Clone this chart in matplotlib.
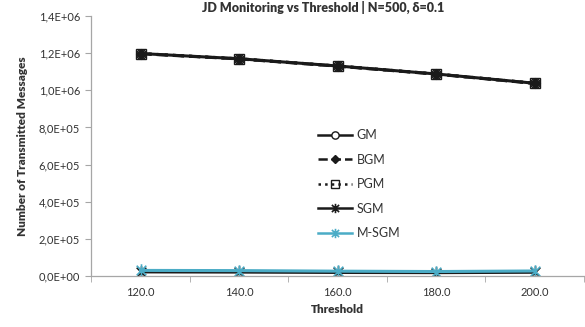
import numpy as np
import matplotlib
matplotlib.use('Agg')
import matplotlib.pyplot as plt
from matplotlib.path import Path
from matplotlib.ticker import FuncFormatter, FixedLocator

plt.rcParams['font.family'] = ['Lato', 'DejaVu Sans']

thresholds = ['120.0', '140.0', '160.0', '180.0', '200.0']
gm = [1198000, 1170000, 1131000, 1088000, 1038000]
bgm = [1197000, 1169000, 1130000, 1087000, 1037000]
pgm = [1198000, 1170000, 1131000, 1088000, 1038000]
sgm = [22000, 21000, 19000, 18000, 20000]
msgm = [30000, 29000, 26000, 24000, 27000]

# excel style star: X with a vertical bar
star = Path([(-1, -1), (1, 1), (-1, 1), (1, -1), (0, -1.3), (0, 1.3)],
            [Path.MOVETO, Path.LINETO, Path.MOVETO, Path.LINETO, Path.MOVETO, Path.LINETO])

fig = plt.figure(figsize=(5.85, 3.27), dpi=100)
ax = fig.add_axes([0.156, 0.156, 0.842, 0.795])

x = np.arange(1, len(thresholds) + 1)
lw = 2.2
ax.plot(x, gm, color='#1a1a1a', lw=lw, marker='o', ms=7, mfc='white', mec='#1a1a1a', label='GM')
ax.plot(x, bgm, color='#1a1a1a', lw=lw, ls='--', marker='D', ms=5, mfc='#1a1a1a', label='BGM')
ax.plot(x, pgm, color='#1a1a1a', lw=lw, ls=':', marker='s', ms=7, mfc='none', mec='#1a1a1a', label='PGM')
ax.plot(x, sgm, color='#1a1a1a', lw=lw, marker=star, ms=9, mew=1.2, label='SGM')
ax.plot(x, msgm, color='#4bacc6', lw=lw, marker=star, ms=9, mew=1.2, mec='#4bacc6', label='M-SGM')

ax.set_xlim(0.5, len(thresholds) + 0.5)
ax.set_ylim(0, 1.4e6)
ax.set_yticks(np.arange(0, 1.41e6, 2e5))
ax.yaxis.set_major_formatter(FuncFormatter(lambda v, p: '{:.1E}'.format(v).replace('.', ',')))
ax.set_xticks(x)
ax.set_xticklabels(thresholds)
ax.xaxis.set_minor_locator(FixedLocator(np.arange(0.5, len(thresholds) + 1, 1)))
ax.tick_params(axis='x', which='major', length=0, pad=8, labelsize=8, colors='#333333')
ax.tick_params(axis='x', which='minor', length=4, color='#a6a6a6', direction='out')
ax.tick_params(axis='y', length=4, color='#a6a6a6', labelsize=8, labelcolor='#333333', pad=4)

for s in ['top', 'right']:
    ax.spines[s].set_visible(False)
for s in ['left', 'bottom']:
    ax.spines[s].set_color('#a6a6a6')
    ax.spines[s].set_linewidth(0.9)

ax.set_xlabel('Threshold', fontsize=8.5, fontweight='heavy', color='#333333', labelpad=4)
ax.set_ylabel('Number of Transmitted Messages', fontsize=8.5, fontweight='heavy', color='#333333', labelpad=8)
ax.set_title('JD Monitoring vs Threshold | N=500, δ=0.1', fontsize=9, fontweight='heavy',
             color='#333333', pad=3, x=0.47)

leg = ax.legend(loc='upper left', bbox_to_anchor=(318 / 585, 1 - 129 / 327), bbox_transform=fig.transFigure,
                frameon=False, fontsize=9, handlelength=2.7, handletextpad=0.4, labelspacing=1.0,
                borderpad=0, borderaxespad=0, markerscale=0.75)
for t in leg.get_texts():
    t.set_color('#333333')
for h in leg.get_lines():
    h.set_linewidth(1.8)

fig.savefig('out.png', dpi=100)
